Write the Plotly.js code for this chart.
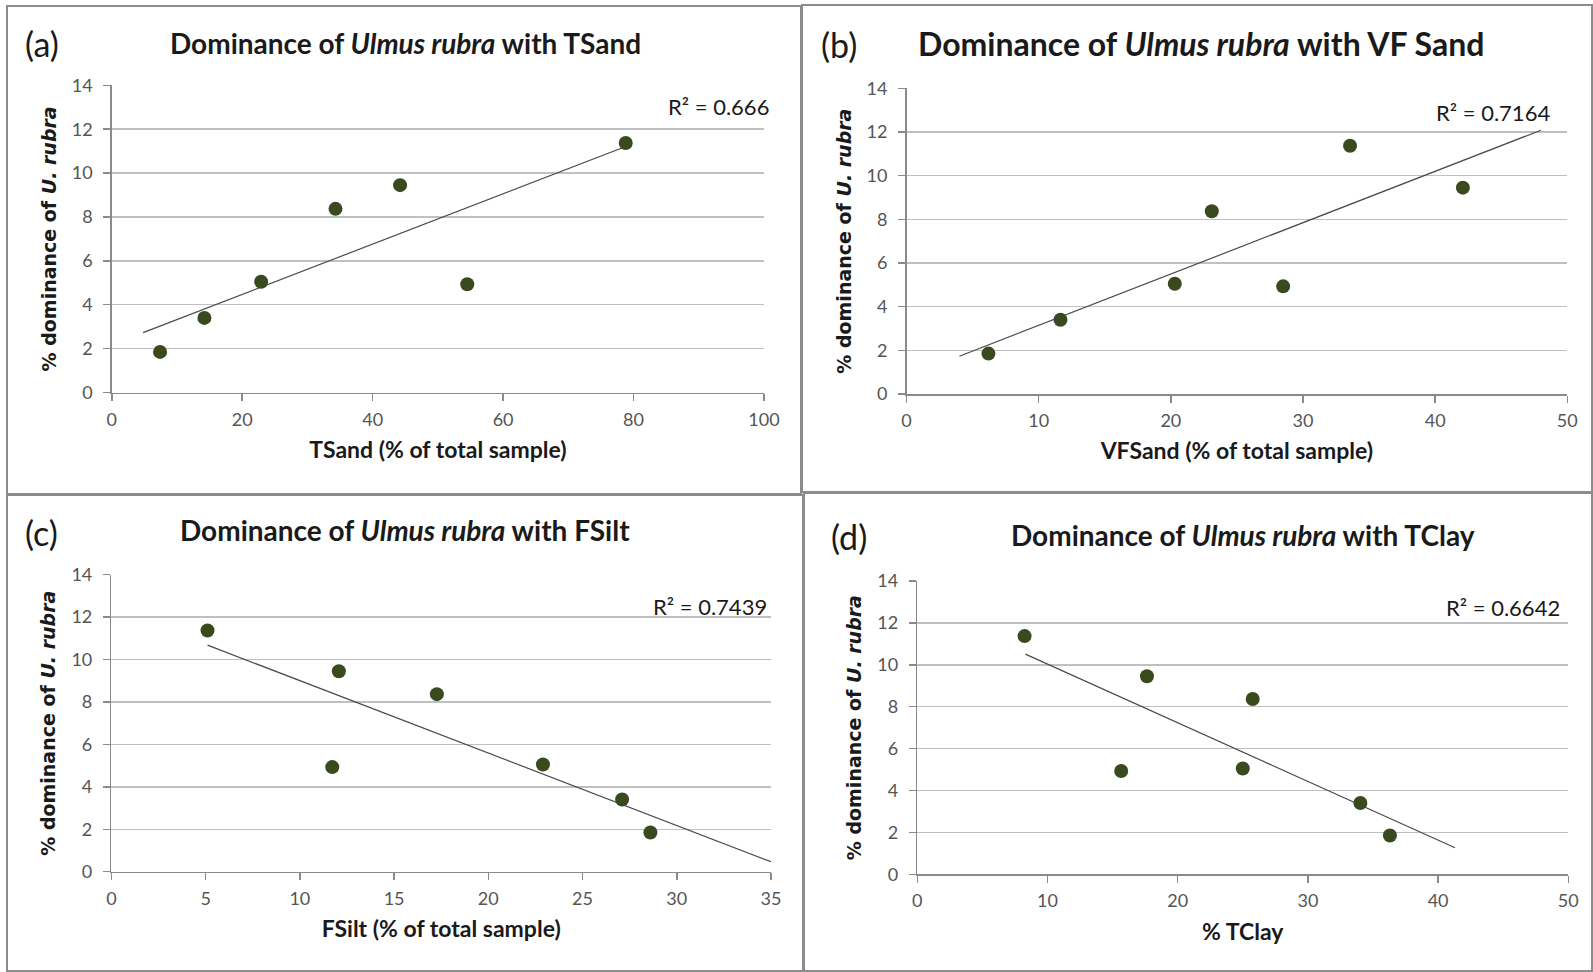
<!DOCTYPE html>
<html>
<head>
<meta charset="utf-8">
<script src="https://cdn.plot.ly/plotly-3.0.1.min.js"></script>
<style>html,body{margin:0;padding:0;background:#fff;}#chart{width:1593px;height:972px;}</style>
</head>
<body>
<div id="chart"></div>
<script>
// ---- data ----
// dominance of U. rubra (%) for the seven sites, same site order in every panel
const dominance = [1.85, 3.4, 5.05, 8.37, 9.45, 4.93, 11.37];
const tsand  = [7.4, 14.2, 22.9, 34.3, 44.2, 54.5, 78.8];
const vfsand = [6.2, 11.65, 20.3, 23.1, 42.1, 28.5, 33.56];
const fsilt  = [28.6, 27.1, 22.9, 17.27, 12.07, 11.72, 5.1];
const tclay  = [36.3, 34.03, 25.0, 25.76, 17.64, 15.66, 8.24];

// linear trendline end points
const trendA_x = [4.8, 78.7],  trendA_y = [2.73, 11.2];
const trendB_x = [4.0, 48.0],  trendB_y = [1.73, 12.08];
const trendC_x = [5.1, 35.0],  trendC_y = [10.68, 0.47];
const trendD_x = [8.3, 41.3],  trendD_y = [10.51, 1.27];

const r2Labels = ["R² = 0.666", "R² = 0.7164", "R² = 0.7439", "R² = 0.6642"];
const panelLabels = ["(a)", "(b)", "(c)", "(d)"];
const titles = [
  "Dominance of <i>Ulmus rubra</i> with TSand",
  "Dominance of <i>Ulmus rubra</i> with VF Sand",
  "Dominance of <i>Ulmus rubra</i> with FSilt",
  "Dominance of <i>Ulmus rubra</i> with TClay"
];
const xTitles = ["TSand (% of total sample)", "VFSand (% of total sample)", "FSilt (% of total sample)", "% TClay"];
const yTitle = "% dominance of <i>U. rubra</i>";
const xRanges = [[0, 100], [0, 50], [0, 35], [0, 50]];
const xDtick = [20, 10, 5, 10];

// ---- layout helpers ----
const W = 1593, H = 972;
const px = v => v / W;
const py = v => 1 - v / H;

const MARK = '#3a4a1f';
const GRID = '#c0c0c0';
const AX = '#8a8a8a';
const TXT = '#1a1a1a';
const TICK = '#555555';
const CAL = 'Lato, "Open Sans", sans-serif';

// plot areas in pixels: [x0, x1, yTop, yBottom]
const areas = [
  [111.8, 764.0, 85.3, 392.5],
  [906.5, 1567.3, 88.3, 394.0],
  [111.4, 771.0, 574.7, 871.7],
  [917.3, 1568.3, 581.0, 874.3]
];

const xs = [tsand, vfsand, fsilt, tclay];
const tx = [trendA_x, trendB_x, trendC_x, trendD_x];
const ty = [trendA_y, trendB_y, trendC_y, trendD_y];

const traces = [];
const layout = {
  width: W, height: H,
  margin: {l: 0, r: 0, t: 0, b: 0},
  paper_bgcolor: '#ffffff', plot_bgcolor: '#ffffff',
  showlegend: false,
  font: {family: CAL, color: TXT},
  annotations: [], shapes: []
};

for (let i = 0; i < 4; i++) {
  const n = i === 0 ? '' : String(i + 1);
  const xa = 'x' + n, ya = 'y' + n;
  traces.push({
    type: 'scatter', mode: 'lines', x: tx[i], y: ty[i], xaxis: xa, yaxis: ya,
    line: {color: '#4a4a4a', width: 1.2}, hoverinfo: 'skip'
  });
  traces.push({
    type: 'scatter', mode: 'markers', x: xs[i], y: dominance, xaxis: xa, yaxis: ya,
    marker: {color: MARK, size: 14, line: {width: 0}}
  });
  const a = areas[i];
  layout['xaxis' + n] = {
    domain: [px(a[0]), px(a[1])], anchor: ya, range: xRanges[i], dtick: xDtick[i], tick0: 0,
    showgrid: false, zeroline: false, showline: true, linecolor: AX, linewidth: 1.5,
    ticks: 'outside', ticklen: 7, tickwidth: 1.5, tickcolor: AX, ticklabelstandoff: 3,
    tickfont: {family: CAL, size: 18, color: TICK},
    title: {text: '<b>' + xTitles[i] + '</b>', font: {family: CAL, size: 23, color: TXT}, standoff: 13}
  };
  layout['yaxis' + n] = {
    domain: [py(a[3]), py(a[2])], anchor: xa, range: [0, 14], dtick: 2, tick0: 0,
    showgrid: true, gridcolor: GRID, gridwidth: 1.5, zeroline: false,
    showline: true, linecolor: AX, linewidth: 1.5,
    ticks: 'outside', ticklen: 7, tickwidth: 1.5, tickcolor: AX, ticklabelstandoff: 7,
    tickfont: {family: CAL, size: 18, color: TICK},
    title: {text: '<b>' + yTitle + '</b>', font: {family: '"DejaVu Sans", Verdana, sans-serif', size: 19, color: TXT}, standoff: 10}
  };
}

// titles, panel labels, R² labels
const titlePos = [[405, 43, 28], [1201, 43, 32], [405, 530, 28], [1243, 535, 28]];
const labelPos = [[23, 43], [819, 45], [23, 532], [829, 536]];
const r2Pos = [[771, 106], [1552, 112], [769, 606], [1562, 607]];
for (let i = 0; i < 4; i++) {
  layout.annotations.push({
    xref: 'paper', yref: 'paper', x: px(titlePos[i][0]), y: py(titlePos[i][1]),
    xanchor: 'center', yanchor: 'middle', showarrow: false,
    text: '<b>' + titles[i] + '</b>', font: {family: CAL, size: titlePos[i][2], color: TXT}
  });
  layout.annotations.push({
    xref: 'paper', yref: 'paper', x: px(labelPos[i][0]), y: py(labelPos[i][1]),
    xanchor: 'left', yanchor: 'middle', showarrow: false,
    text: panelLabels[i], font: {family: CAL, size: 34, color: TXT}
  });
  layout.annotations.push({
    xref: 'paper', yref: 'paper', x: px(r2Pos[i][0]), y: py(r2Pos[i][1]),
    xanchor: 'right', yanchor: 'middle', showarrow: false,
    text: r2Labels[i], font: {family: CAL, size: 22, color: TXT}
  });
}

// panel frames
const boxes = [[7, 6, 801, 494], [802, 5, 1592, 492], [7, 495, 803, 971], [804, 493, 1592, 971]];
boxes.forEach(b => layout.shapes.push({
  type: 'rect', xref: 'paper', yref: 'paper',
  x0: px(b[0]), x1: px(b[2]), y0: py(b[3]), y1: py(b[1]),
  line: {color: '#8c8c8c', width: 2}, fillcolor: 'rgba(0,0,0,0)', layer: 'below'
}));

Plotly.newPlot('chart', traces, layout, {displayModeBar: false, staticPlot: true});
</script>
</body>
</html>
